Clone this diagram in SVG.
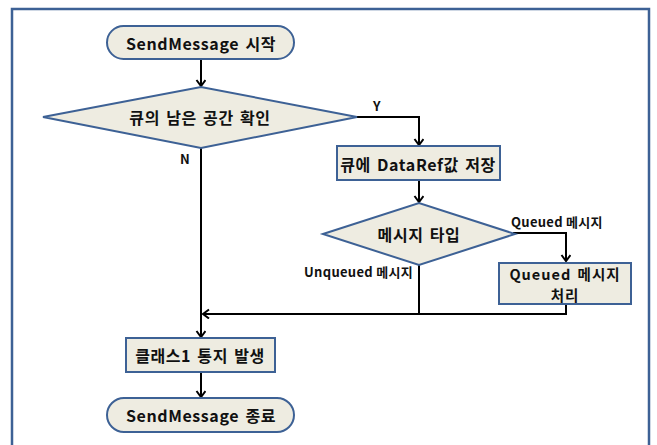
<svg xmlns="http://www.w3.org/2000/svg" width="657" height="445" viewBox="0 0 657 445">
  <style>
    .node { fill: #eeece1; stroke: #3d6195; stroke-width: 2; }
    .txt { font-family: "Noto Sans CJK KR", "Noto Sans", sans-serif; font-weight: bold; font-size: 16px; letter-spacing: 0.6px; word-spacing: 2px; fill: #111; text-anchor: middle; dominant-baseline: central; }
    .txt2 { font-size: 14.5px; letter-spacing: 1px; }
    .lbl { font-family: "Noto Sans CJK KR", "Noto Sans", sans-serif; font-weight: bold; font-size: 13px; letter-spacing: 0.3px; fill: #111; }
    .wire { fill: none; stroke: #000; stroke-width: 2; }
  </style>
  <defs>
    <marker id="arrow" markerUnits="userSpaceOnUse" markerWidth="12" markerHeight="12" refX="7" refY="5" orient="auto">
      <path d="M1,0.5 L7,5 L1,9.5" fill="none" stroke="#000" stroke-width="2"/>
    </marker>
  </defs>
  <rect width="657" height="445" fill="#fff"/>
  <!-- open frame around the chart -->
  <path d="M12,446 L12,9 L649,9 L649,446" fill="none" stroke="#3d6195" stroke-width="2.5"/>

  <g id="connectors">
    <path class="wire" d="M201,59 L201,86" marker-end="url(#arrow)"/>
    <path class="wire" d="M357,117 L419,117 L419,145" marker-end="url(#arrow)"/>
    <path class="wire" d="M201,148 L201,337" marker-end="url(#arrow)"/>
    <path class="wire" d="M419,180 L419,202" marker-end="url(#arrow)"/>
    <path class="wire" d="M513,233 L566,233 L566,261" marker-end="url(#arrow)"/>
    <path class="wire" d="M419,265 L419,314"/>
    <path class="wire" d="M566,304 L566,314 L203,314" marker-end="url(#arrow)"/>
    <path class="wire" d="M201,372 L201,397" marker-end="url(#arrow)"/>
    <text class="lbl" x="377" y="111" text-anchor="middle">Y</text>
    <text class="lbl" x="185" y="164" text-anchor="middle">N</text>
    <text class="lbl" x="511" y="227">Queued 메시지</text>
    <text class="lbl" x="413" y="277" text-anchor="end">Unqueued 메시지</text>
  </g>

  <g id="start">
    <rect class="node" x="107" y="26" width="187" height="33" rx="16.5"/>
    <text class="txt" x="201" y="43">SendMessage 시작</text>
  </g>
  <g id="check-space">
    <polygon class="node" points="43,117 201,87 357,117 201,148"/>
    <text class="txt" x="200" y="117">큐의 남은 공간 확인</text>
  </g>
  <g id="store-dataref">
    <rect class="node" x="337" y="146" width="163" height="34"/>
    <text class="txt" x="418" y="164">큐에 DataRef값 저장</text>
  </g>
  <g id="message-type">
    <polygon class="node" points="323,234 419,203 515,234 419,265"/>
    <text class="txt" x="419" y="234">메시지 타입</text>
  </g>
  <g id="queued-handling">
    <rect class="node" x="499" y="263" width="132" height="41"/>
    <text class="txt txt2" x="565" y="273.5">Queued 메시지</text>
    <text class="txt txt2" x="565" y="294.5">처리</text>
  </g>
  <g id="class1-notify">
    <rect class="node" x="126" y="338" width="149" height="34"/>
    <text class="txt" x="200" y="355">클래스1 통지 발생</text>
  </g>
  <g id="end">
    <rect class="node" x="107" y="398" width="187" height="34" rx="17"/>
    <text class="txt" x="201" y="415">SendMessage 종료</text>
  </g>
</svg>
